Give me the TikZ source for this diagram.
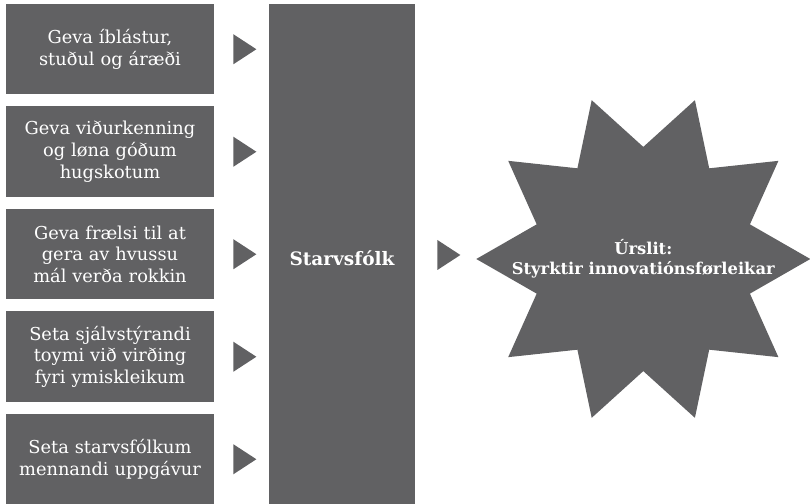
\documentclass[tikz,border=0pt]{standalone}
\usepackage{fontspec}
\setmainfont{DejaVu Serif}
\usetikzlibrary{shapes.geometric}
\definecolor{slate}{HTML}{616163}
\tikzstyle{block} = [rectangle, fill=slate, text=white, text width=204pt,
    text centered, minimum width=208pt, minimum height=90.5pt, inner sep=0pt,
    font=\fontsize{17.8}{21.7}\selectfont]
\tikzstyle{pointer} = [isosceles triangle, isosceles triangle stretches,
    fill=slate, minimum width=30pt, minimum height=23pt, inner sep=0pt]

\begin{document}
\begin{tikzpicture}[x=1pt, y=1pt, node distance=102.5pt]
    \path [use as bounding box, clip] (0,0) rectangle (810,503);
    % Place nodes
    \node [block] (inspire) at (110,453.75) {Geva íblástur,\\ stuðul og áræði};
    \node [block, below of=inspire] (praise) {Geva viðurkenning\\ og løna góðum\\ hugskotum};
    \node [block, below of=praise] (freedom) {Geva frælsi til at\\ gera av hvussu\\ mál verða rokkin};
    \node [block, below of=freedom] (teams) {Seta sjálvstýrandi\\ toymi við virðing\\ fyri ymiskleikum};
    \node [block, below of=teams] (tasks) {Seta starvsfólkum\\ mennandi uppgávur};
    \node [block, text width=140pt, minimum width=146pt, minimum height=508pt,
        font=\fontsize{18.5}{22}\selectfont\bfseries] (staff) at (342,245) {Starvsfólk};
    \node [star, star points=10, star point ratio=1.49, shape border rotate=18,
        minimum size=334pt, inner sep=0pt, fill=slate] (result) at (643.3,244) {};
    \node [text=white, align=center, font=\fontsize{16.3}{20}\selectfont\bfseries]
        (resultlabel) at (result) {Úrslit:\\ Styrktir innovatiónsførleikar};
    % Pointers
    \node [pointer, right of=inspire, node distance=131.5pt] (p1) {};
    \node [pointer, right of=praise, node distance=131.5pt] (p2) {};
    \node [pointer, right of=freedom, node distance=131.5pt] (p3) {};
    \node [pointer, right of=teams, node distance=131.5pt] (p4) {};
    \node [pointer, right of=tasks, node distance=131.5pt] (p5) {};
    \node [pointer] (p6) at (445.5,248) {};
\end{tikzpicture}
\end{document}
